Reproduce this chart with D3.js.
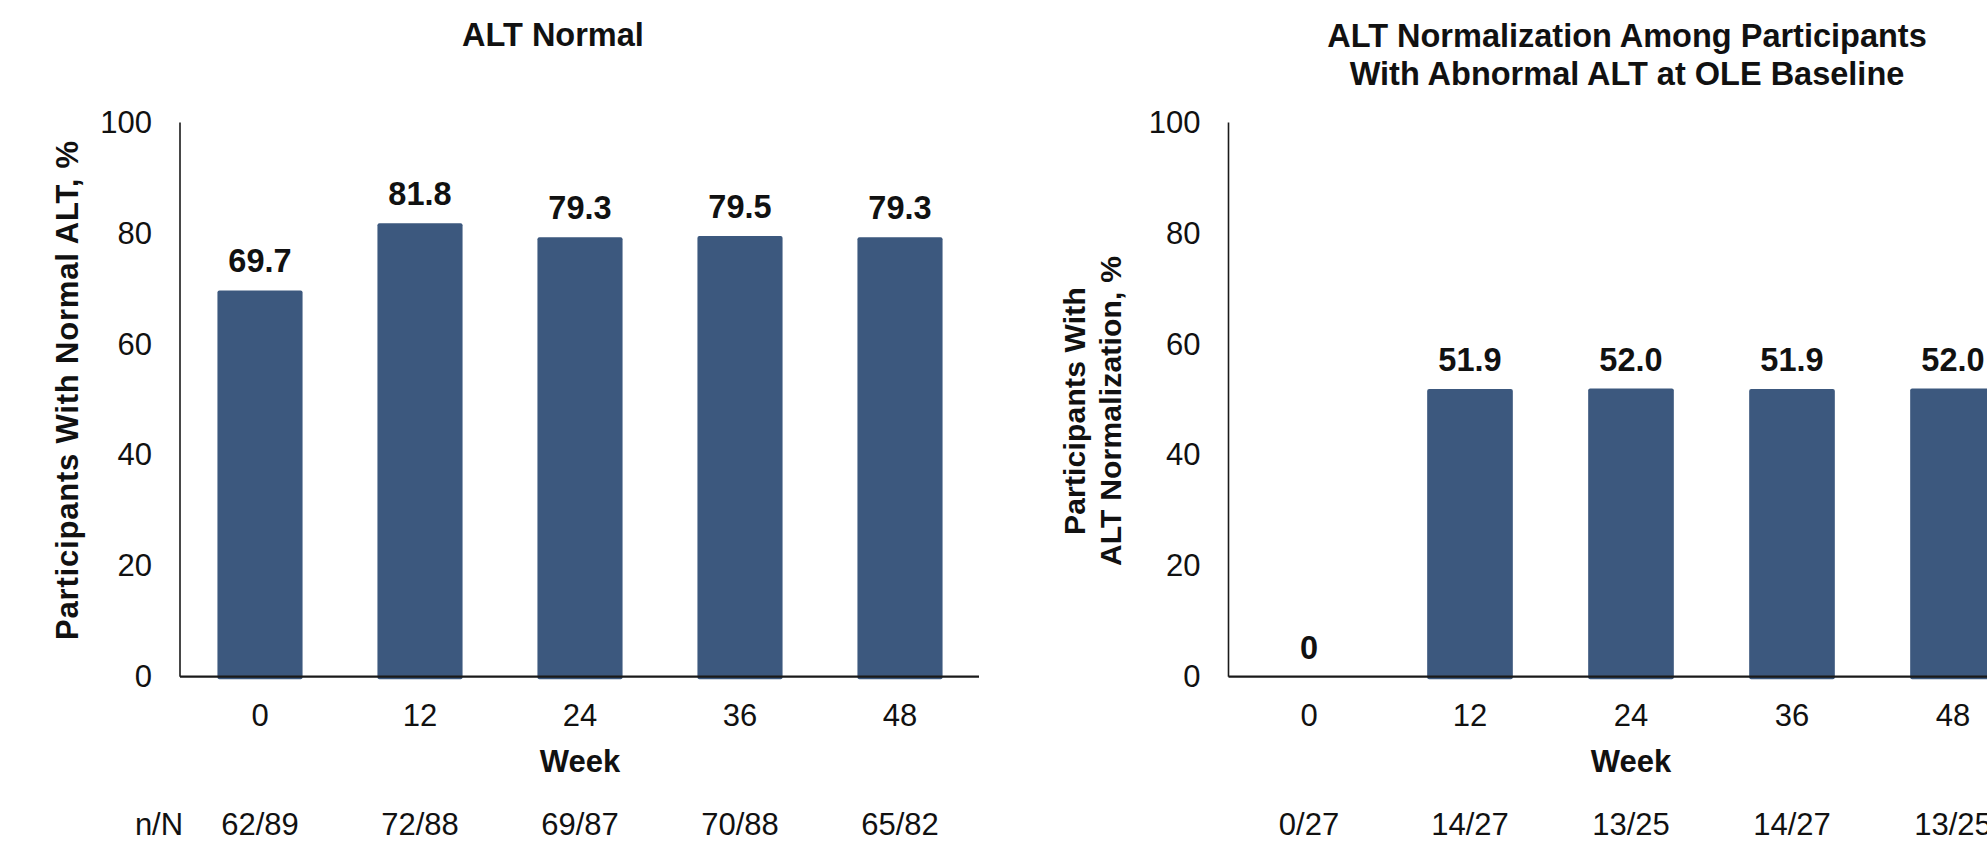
<!DOCTYPE html>
<html>
<head>
<meta charset="utf-8">
<script src="https://cdn.jsdelivr.net/npm/d3@7"></script>
<style>
  html, body { margin: 0; padding: 0; background: #fff; }
  svg { display: block; }
  text { font-family: "Liberation Sans", Arial, Helvetica, sans-serif; fill: #111; }
</style>
</head>
<body>
<svg id="chart" width="1987" height="847"></svg>
<script>
// ---------- data ----------
const weeks = ["0", "12", "24", "36", "48"];
const yTicks = [0, 20, 40, 60, 80, 100];

const altNormalValues = [69.7, 81.8, 79.3, 79.5, 79.3];
const altNormalNN = ["62/89", "72/88", "69/87", "70/88", "65/82"];

const altNormalizationValues = [0, 51.9, 52.0, 51.9, 52.0];
const altNormalizationNN = ["0/27", "14/27", "13/25", "14/27", "13/25"];

const leftTitle = ["ALT Normal"];
const rightTitle = ["ALT Normalization Among Participants", "With Abnormal ALT at OLE Baseline"];
const leftYTitle = ["Participants With Normal ALT, %"];
const rightYTitle = ["Participants With", "ALT Normalization, %"];
const xTitle = "Week";
const nnLabel = "n/N";

// ---------- layout ----------
const svg = d3.select("#chart");
const BAR = "#3c587e";
const fmt = v => v === 0 ? "0" : d3.format(".1f")(v);

function panel(cfg) {
  const g = svg.append("g");
  const x = d3.scaleBand().domain(weeks).range(cfg.xRange).paddingInner(0.468).paddingOuter(0.234);
  const y = d3.scaleLinear().domain([0, 100]).range([676.7, 122.5]);
  const data = weeks.map((w, i) => ({ w, v: cfg.values[i], nn: cfg.nn[i] }));

  // bars
  g.selectAll("rect.bar").data(data.filter(d => d.v > 0)).join("rect")
    .attr("class", "bar")
    .attr("x", d => x(d.w))
    .attr("width", x.bandwidth())
    .attr("y", d => y(d.v))
    .attr("height", d => y(0) - y(d.v) + 2.5)
    .attr("rx", 2)
    .attr("fill", BAR);

  // y axis
  const yAxis = d3.axisLeft(y).tickValues(yTicks).tickSize(0).tickPadding(28);
  const ya = g.append("g").attr("transform", `translate(${cfg.xRange[0]},0)`).call(yAxis);
  ya.select(".domain").attr("stroke", "#1a1a1a").attr("stroke-width", 1.6).attr("d", `M0,${y(100)}V${y(0)}`);
  ya.selectAll(".tick text").attr("font-size", 31).attr("fill", "#111")
    .attr("font-family", "Liberation Sans, Arial, sans-serif");

  // x axis
  const xAxis = d3.axisBottom(x).tickSize(0).tickPadding(27);
  const xa = g.append("g").attr("transform", `translate(0,${y(0)})`).call(xAxis);
  xa.select(".domain").attr("stroke", "#1a1a1a").attr("stroke-width", 2.2)
    .attr("d", `M${cfg.xRange[0]},0H${cfg.xAxisEnd}`);
  xa.selectAll(".tick text").attr("font-size", 31).attr("fill", "#111")
    .attr("font-family", "Liberation Sans, Arial, sans-serif");

  // value labels
  g.selectAll("text.val").data(data).join("text")
    .attr("class", "val")
    .attr("x", d => x(d.w) + x.bandwidth() / 2)
    .attr("y", d => y(d.v) - 18)
    .attr("text-anchor", "middle")
    .attr("font-size", 32.5).attr("font-weight", "bold").attr("fill", "#000")
    .text(d => fmt(d.v));

  // x title
  g.append("text")
    .attr("x", (cfg.xRange[0] + cfg.xRange[1]) / 2)
    .attr("y", 772)
    .attr("text-anchor", "middle")
    .attr("font-size", 31).attr("font-weight", "bold")
    .text(xTitle);

  // n/N row
  g.selectAll("text.nn").data(data).join("text")
    .attr("class", "nn")
    .attr("x", d => x(d.w) + x.bandwidth() / 2)
    .attr("y", 835)
    .attr("text-anchor", "middle")
    .attr("font-size", 31)
    .text(d => d.nn);

  // title
  g.selectAll("text.title").data(cfg.title).join("text")
    .attr("class", "title")
    .attr("x", cfg.titleX)
    .attr("y", (d, i) => cfg.titleY + i * 38)
    .attr("text-anchor", "middle")
    .attr("font-size", 32.5).attr("font-weight", "bold").attr("fill", "#1a1a1a")
    .text(d => d);

  // y title
  const n = cfg.yTitle.length;
  g.selectAll("text.ytitle").data(cfg.yTitle).join("text")
    .attr("class", "ytitle")
    .attr("transform", (d, i) => `translate(${cfg.yTitleX - (n - 1 - i) * 36},${cfg.yTitleY}) rotate(-90)`)
    .attr("text-anchor", "middle")
    .attr("font-size", cfg.yTitleSize).attr("font-weight", "bold").attr("letter-spacing", cfg.yTitleSpacing)
    .attr("fill", "#1a1a1a")
    .text(d => d);

  return { x, y };
}

panel({
  xRange: [180, 980], xAxisEnd: 979,
  values: altNormalValues, nn: altNormalNN,
  title: leftTitle, titleX: 553, titleY: 46,
  yTitle: leftYTitle, yTitleX: 78, yTitleY: 390, yTitleSize: 31, yTitleSpacing: 0.8
});

panel({
  xRange: [1228.5, 2033.5], xAxisEnd: 1987,
  values: altNormalizationValues, nn: altNormalizationNN,
  title: rightTitle, titleX: 1627, titleY: 47,
  yTitle: rightYTitle, yTitleX: 1121, yTitleY: 411, yTitleSize: 30, yTitleSpacing: 0.2
});

// n/N row label
svg.append("text")
  .attr("x", 159).attr("y", 835)
  .attr("text-anchor", "middle")
  .attr("font-size", 31)
  .text(nnLabel);
</script>
</body>
</html>
